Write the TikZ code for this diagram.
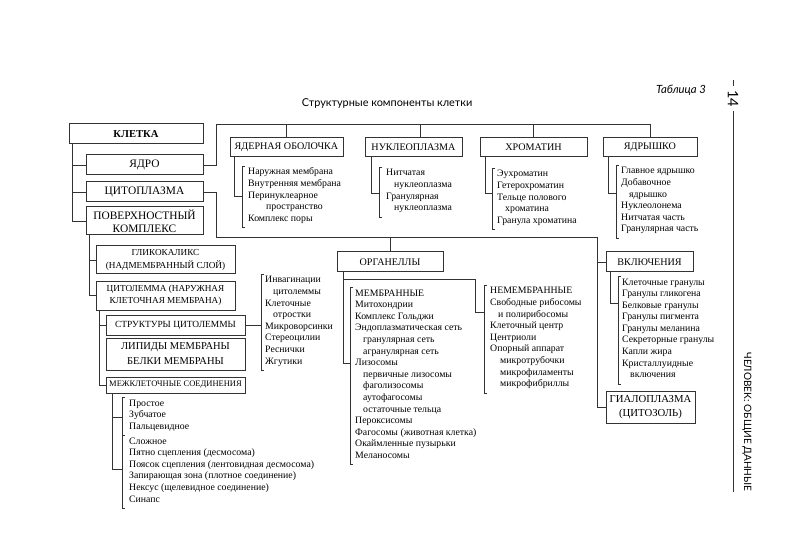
\documentclass[tikz,border=0pt]{standalone}
\usepackage{fontspec}
\setmainfont{Liberation Serif}
\newfontfamily\sansf{Lato}
\newcommand\ind{\hspace*{8pt}}
\newcommand\lst[1]{\begin{tabular}[t]{@{}l@{}}#1\end{tabular}}
\newcommand\brk[2]{\draw[ln] ([xshift=3-#2]#1.north west) -- ([xshift=-#2]#1.north west) -- ([shift={(-#2,2.5)}]#1.south west) -- ++(3,0);}
\begin{document}
\begin{tikzpicture}[x=1pt,y=-1pt,
  ln/.style={line width=0.85pt,draw=black!80},
  bx/.style={draw=black!80,line width=1pt,inner sep=0pt,align=center},
  fA/.style={font=\fontsize{11.4}{13}\selectfont},
  fB/.style={font=\fontsize{10.1}{12}\selectfont},
  lt/.style={anchor=base west,inner sep=0pt,font=\fontsize{9.8}{11.6}\selectfont}]
\useasboundingbox[fill=white] (0,0) rectangle (800,545);

% header
\node[font=\sansf\fontsize{10.9}{13}\selectfont] (title) at (387,103) {Структурные компоненты клетки};
\node[font=\sansf\itshape\fontsize{11.3}{13}\selectfont] (tab) at (681,90) {Таблица 3};
\node[font=\sansf\fontsize{14.5}{16}\selectfont,rotate=-90] (pg) at (733,99) {14};
\node[font=\sansf\fontsize{10.1}{12}\selectfont,rotate=-90] (run) at (747,422) {ЧЕЛОВЕК: ОБЩИЕ ДАННЫЕ};
\draw[ln] (733,80) -- (733,86.5);
\draw[ln] (733,111.5) -- (733,492);

% main boxes
\node[bx,minimum width=134,minimum height=20,font=\bfseries\fontsize{10.6}{12}\selectfont] (klet) at (136,134) {КЛЕТКА};
\node[bx,fA,minimum width=117,minimum height=20] (yadro) at (144.5,165) {ЯДРО};
\node[bx,fA,minimum width=117,minimum height=20] (cyto) at (144.5,192) {ЦИТОПЛАЗМА};
\node[bx,fA,minimum width=117,minimum height=28] (pov) at (144.5,221) {ПОВЕРХНОСТНЫЙ\\КОМПЛЕКС};

\node[bx,fB,minimum width=113,minimum height=19] (yo) at (286.5,147.5) {ЯДЕРНАЯ ОБОЛОЧКА};
\node[bx,fB,minimum width=97,minimum height=19] (nuc) at (413.5,147.5) {НУКЛЕОПЛАЗМА};
\node[bx,fB,minimum width=107,minimum height=19] (chrom) at (533.5,147.5) {ХРОМАТИН};
\node[bx,fB,minimum width=94,minimum height=19] (yadr) at (650,147.5) {ЯДРЫШКО};

\node[bx,font=\fontsize{9.2}{12.5}\selectfont,minimum width=139,minimum height=28] (gliko) at (165.5,260) {ГЛИКОКАЛИКС\\(НАДМЕМБРАННЫЙ СЛОЙ)};
\node[bx,font=\fontsize{9.2}{12.5}\selectfont,minimum width=139,minimum height=29] (cytol) at (165.5,295.5) {ЦИТОЛЕММА (НАРУЖНАЯ\\КЛЕТОЧНАЯ МЕМБРАНА)};
\node[bx,font=\fontsize{9.4}{12}\selectfont,minimum width=139,minimum height=20] (struct) at (175.5,325) {СТРУКТУРЫ ЦИТОЛЕММЫ};
\node[bx,font=\fontsize{10.5}{15}\selectfont,minimum width=139,minimum height=32] (lipid) at (175.5,354) {ЛИПИДЫ МЕМБРАНЫ\\БЕЛКИ МЕМБРАНЫ};
\node[bx,font=\fontsize{8.5}{10}\selectfont,minimum width=139,minimum height=16] (mezh) at (175.5,385) {МЕЖКЛЕТОЧНЫЕ СОЕДИНЕНИЯ};

\node[bx,fB,minimum width=106,minimum height=20] (org) at (390,262) {ОРГАНЕЛЛЫ};
\node[bx,fB,minimum width=87,minimum height=20] (vkl) at (649.5,262) {ВКЛЮЧЕНИЯ};
\node[bx,font=\fontsize{10.7}{14}\selectfont,minimum width=89,minimum height=32] (gial) at (650.5,407) {ГИАЛОПЛАЗМА\\(ЦИТОЗОЛЬ)};

% lists
\node[lt] (lyo) at (248,175) {\lst{Наружная мембрана\\Внутренняя мембрана\\Перинуклеарное\\\hspace*{18pt}пространство\\Комплекс поры}};
\node[lt] (lnu) at (386,176) {\lst{Нитчатая\\\ind нуклеоплазма\\Гранулярная\\\ind нуклеоплазма}};
\node[lt] (lch) at (497,177) {\lst{Эухроматин\\Гетерохроматин\\Тельце полового\\\ind хроматина\\Гранула хроматина}};
\node[lt] (lya) at (621,174) {\lst{Главное ядрышко\\Добавочное\\\ind ядрышко\\Нуклеолонема\\Нитчатая часть\\Гранулярная часть}};
\node[lt] (lst) at (265,283) {\lst{Инвагинации\\\ind цитолеммы\\Клеточные\\\ind отростки\\Микроворсинки\\Стереоцилии\\Реснички\\Жгутики}};
\node[lt] (lme) at (355,296) {\lst{МЕМБРАННЫЕ\\Митохондрии\\Комплекс Гольджи\\Эндоплазматическая сеть\\\ind гранулярная сеть\\\ind агранулярная сеть\\Лизосомы\\\ind первичные лизосомы\\\ind фаголизосомы\\\ind аутофагосомы\\\ind остаточные тельца\\Пероксисомы\\Фагосомы (животная клетка)\\Окаймленные пузырьки\\Меланосомы}};
\node[lt] (lne) at (490,294) {\lst{НЕМЕМБРАННЫЕ\\Свободные рибосомы\\\ind и полирибосомы\\Клеточный центр\\Центриоли\\Опорный аппарат\\\hspace*{10pt}микротрубочки\\\hspace*{10pt}микрофиламенты\\\hspace*{10pt}микрофибриллы}};
\node[lt] (lvk) at (622,285) {\lst{Клеточные гранулы\\Гранулы гликогена\\Белковые гранулы\\Гранулы пигмента\\Гранулы меланина\\Секреторные гранулы\\Капли жира\\Кристаллуидные\\\ind включения}};
\node[lt] (lp1) at (129,406) {\lst{Простое\\Зубчатое\\Пальцевидное}};
\node[lt] (lp2) at (129,444) {\lst{Сложное\\Пятно сцепления (десмосома)\\Поясок сцепления (лентовидная десмосома)\\Запирающая зона (плотное соединение)\\Нексус (щелевидное соединение)\\Синапс}};

\brk{lyo}{6}
\brk{lnu}{7}
\brk{lch}{5}
\brk{lya}{5}
\brk{lst}{4}
\brk{lme}{5}
\brk{lne}{6}
\brk{lvk}{4}
\brk{lp1}{7}
\brk{lp2}{7}

% connectors: КЛЕТКА
\draw[ln] ([xshift=4]klet.south west) |- (yadro.west);
\draw[ln] ([xshift=4]klet.south west) |- (cyto.west);
\draw[ln] ([xshift=4]klet.south west) |- (pov.west);

% ЯДРО
\coordinate (jA) at (216,124);
\coordinate (nucT) at (420,124);
\draw[ln] (yadro.east) -| (jA) -| (yadr.north);
\draw[ln] (yo.north) -- (yo.north |- jA);
\draw[ln] (nucT) -- (nucT |- nuc.north);
\draw[ln] (chrom.north) -- (chrom.north |- jA);

% ЦИТОПЛАЗМА
\coordinate (cB) at (216,237.5);
\coordinate (cR) at (597,237.5);
\draw[ln] (cyto.east) -| (cB) -- (cR) |- (gial.west);
\draw[ln] (cR |- vkl.west) -- (vkl.west);
\draw[ln] (org.north) -- (org.north |- cB);

% ПОВЕРХНОСТНЫЙ КОМПЛЕКС
\draw[ln] ([xshift=4]pov.south west) |- (gliko.west);
\draw[ln] ([xshift=4]pov.south west) |- (cytol.west);
\draw[ln] ([xshift=4]cytol.south west) |- (struct.west);
\draw[ln] ([xshift=4]cytol.south west) |- (mezh.west);
\coordinate (tS) at (261,325);
\draw[ln] (struct.east) -- (tS);

% МЕЖКЛЕТОЧНЫЕ
\coordinate (tP1) at (122,417);
\coordinate (tP2) at (122,469);
\draw[ln] ([xshift=7]mezh.south west) |- (tP1);
\draw[ln] ([xshift=7]mezh.south west) |- (tP2);

% list ticks
\coordinate (tYO) at (242,196);
\coordinate (tNU) at (379,193);
\coordinate (tCH) at (492,193);
\coordinate (tYA) at (616,193);
\draw[ln] ([xshift=5]yo.south west) |- (tYO);
\draw[ln] ([xshift=7]nuc.south west) |- (tNU);
\draw[ln] ([xshift=6]chrom.south west) |- (tCH);
\draw[ln] ([xshift=6]yadr.south west) |- (tYA);

\coordinate (tME) at (350,363);
\coordinate (oV) at (344,279);
\coordinate (oH) at (475,279);
\coordinate (tNE) at (484,312);
\draw[ln] ([xshift=7]org.south west) |- (tME);
\draw[ln] (oV) -- (oH) |- (tNE);
\coordinate (tVK) at (618,303);
\draw[ln] ([xshift=5]vkl.south west) |- (tVK);
\end{tikzpicture}
\end{document}
